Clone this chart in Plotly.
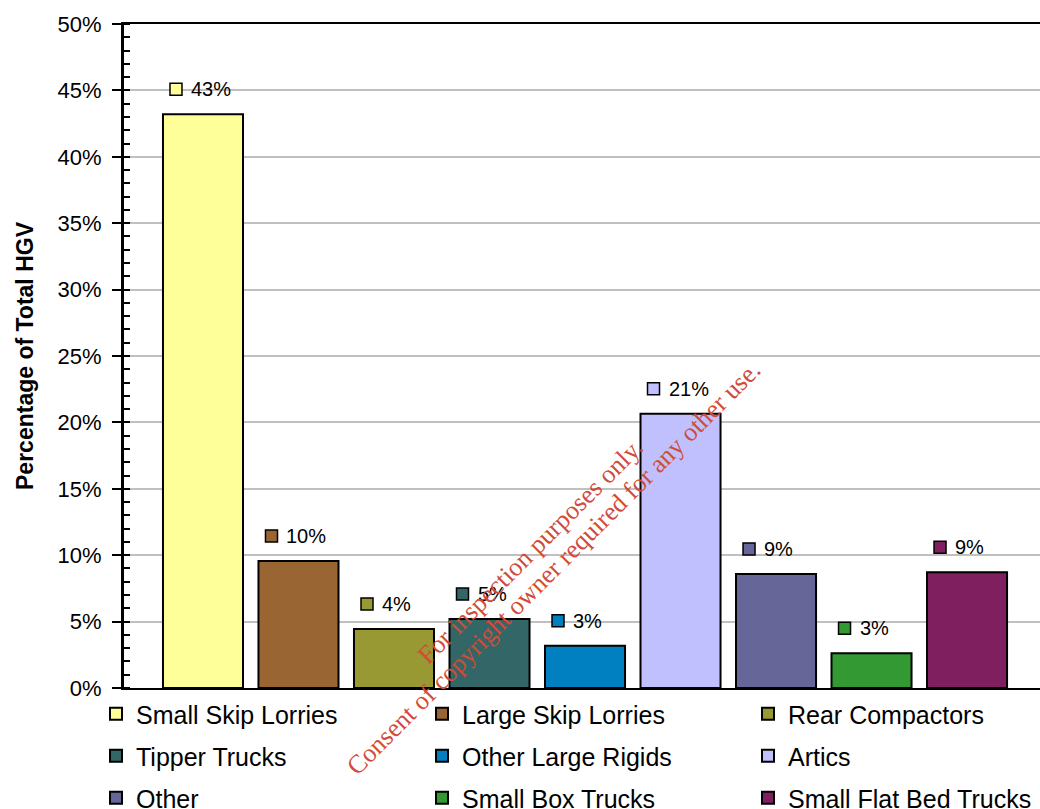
import plotly.graph_objects as go

categories = ["Small Skip Lorries", "Large Skip Lorries", "Rear Compactors",
              "Tipper Trucks", "Other Large Rigids", "Artics",
              "Other", "Small Box Trucks", "Small Flat Bed Trucks"]
values = [43.2, 9.57, 4.45, 5.19, 3.18, 20.65, 8.59, 2.62, 8.72]
colors = ["#FFFF99", "#996633", "#999933", "#336666", "#0080C0",
          "#C0C0FF", "#666699", "#339933", "#801F5F"]
yticks = [0, 5, 10, 15, 20, 25, 30, 35, 40, 45, 50]
ytick_text = [f"{v}%" for v in yticks]

FONT = "Liberation Sans, Arial, sans-serif"
W, H = 1040, 809
ML, MR, MT, MB = 124, 0, 24, 121
PW, PH = W - ML - MR, H - MT - MB

def px_to_paper(px, py):
    return (px - ML) / PW, (H - MB - py) / PH

fig = go.Figure()

# legend grid (3 columns x 3 rows), page pixel positions
leg_col_x = [96, 422, 748]
leg_row_y = [714, 756, 798]

for i, (cat, val, col) in enumerate(zip(categories, values, colors)):
    lname = "legend" if i == 0 else f"legend{i + 1}"
    fig.add_trace(go.Bar(
        x=[i], y=[val], name=cat, width=0.838,
        marker=dict(color=col, line=dict(color="black", width=2)),
        legend=lname, hoverinfo="name+y",
    ))
    lx, ly = px_to_paper(leg_col_x[i % 3], leg_row_y[i // 3])
    fig.update_layout(**{lname: dict(
        orientation="h", xref="paper", yref="paper",
        x=lx, y=ly, xanchor="left", yanchor="middle",
        font=dict(family=FONT, size=25, color="black"),
        bgcolor="rgba(0,0,0,0)", itemclick=False, itemdoubleclick=False,
    )})
    # data label: coloured square + rounded percentage
    fig.add_shape(type="rect", xref="x", yref="y",
                  xsizemode="pixel", ysizemode="pixel",
                  xanchor=i, yanchor=val,
                  x0=-33, x1=-21, y0=19, y1=31,
                  fillcolor=col, line=dict(color="black", width=1.5))
    fig.add_annotation(x=i, y=val, xref="x", yref="y",
                       text=f"{round(val):.0f}%", showarrow=False,
                       xanchor="left", yanchor="middle",
                       xshift=-14, yshift=25,
                       font=dict(family=FONT, size=20, color="black"))

fig.update_layout(
    width=W, height=H,
    margin=dict(l=ML, r=MR, t=MT, b=MB, autoexpand=False),
    paper_bgcolor="white", plot_bgcolor="white",
    barmode="overlay",
    showlegend=True,
    font=dict(family=FONT, color="black"),
)

fig.update_xaxes(
    range=[-0.827, 8.764], showticklabels=False, ticks="",
    showgrid=False, zeroline=False,
    showline=True, linecolor="black", linewidth=2, mirror=True,
)
fig.update_yaxes(
    range=[0, 50], tickmode="array", tickvals=yticks, ticktext=ytick_text,
    tickfont=dict(family=FONT, size=22, color="black"),
    ticks="outside", ticklen=9, tickwidth=2, tickcolor="black",
    ticklabelstandoff=6,
    minor=dict(dtick=1, ticks="inside", ticklen=6, tickwidth=2, tickcolor="black", showgrid=False),
    showgrid=True, gridcolor="#C0C0C0", gridwidth=1.5,
    zeroline=False, showline=True, linecolor="black", linewidth=3,
    title=dict(text="<b>Percentage of Total HGV</b>", standoff=18,
               font=dict(family=FONT, size=23, color="black")),
)

WM_FONT = dict(family="Liberation Serif, Times New Roman, serif", size=26, color="#D24B38")
wx1, wy1 = px_to_paper(530, 551)
wx2, wy2 = px_to_paper(553, 568)
fig.add_annotation(xref="paper", yref="paper", x=wx1, y=wy1,
                   xanchor="center", yanchor="middle",
                   text="For inspection purposes only.",
                   textangle=-45, showarrow=False, font=WM_FONT)
fig.add_annotation(xref="paper", yref="paper", x=wx2, y=wy2,
                   xanchor="center", yanchor="middle",
                   text="Consent of copyright owner required for any other use.",
                   textangle=-45, showarrow=False, font=WM_FONT)

fig.write_html("out.html")
